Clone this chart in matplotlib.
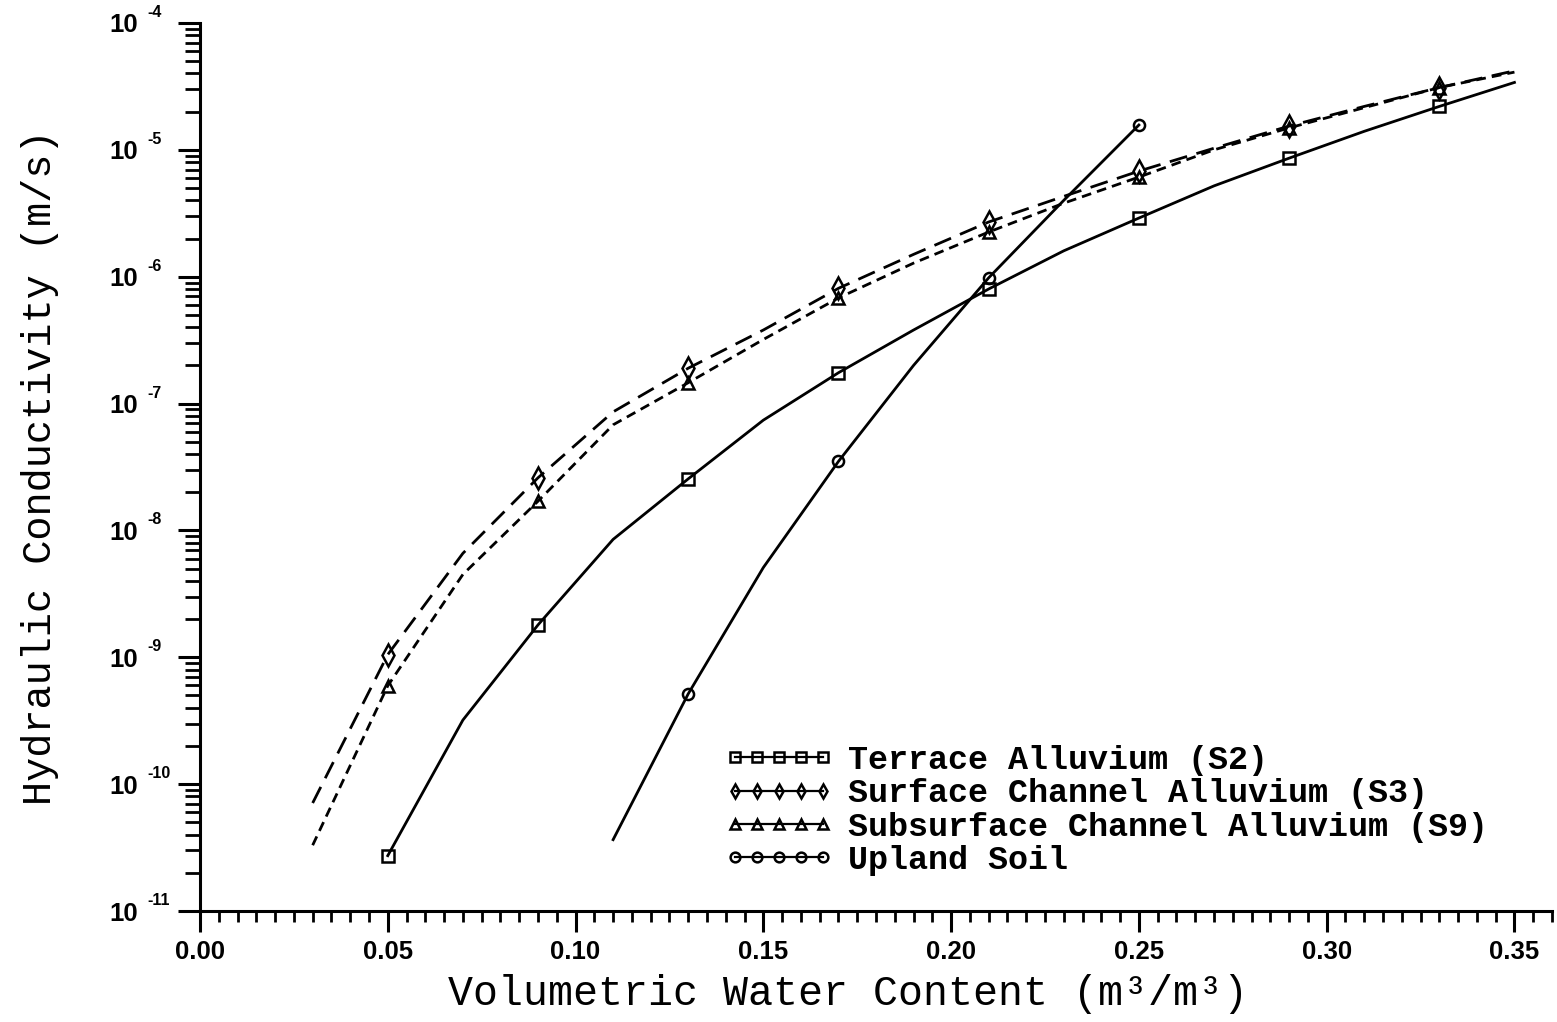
import numpy as np
import matplotlib
matplotlib.use("Agg")
import matplotlib.pyplot as plt
import matplotlib.transforms as mtransforms
from matplotlib.ticker import MultipleLocator, FixedLocator, NullFormatter

# ---------------- data ----------------
x_s2 = [0.05, 0.07, 0.09, 0.11, 0.13, 0.15, 0.17, 0.19, 0.21, 0.23, 0.25, 0.27, 0.29, 0.31, 0.33, 0.35]
k_s2 = [2.73e-11, 3.2e-10, 1.8e-9, 8.5e-9, 2.55e-8, 7.4e-8, 1.75e-7, 3.8e-7, 8.0e-7,
        1.6e-6, 2.9e-6, 5.2e-6, 8.6e-6, 1.4e-5, 2.2e-5, 3.4e-5]

x_s3 = [0.03, 0.05, 0.07, 0.09, 0.11, 0.13, 0.15, 0.17, 0.19, 0.21, 0.23, 0.25, 0.27, 0.29, 0.31, 0.33, 0.35]
k_s3 = [7.1e-11, 1.05e-9, 6.6e-9, 2.6e-8, 8.6e-8, 1.9e-7, 3.8e-7, 8.1e-7, 1.5e-6, 2.7e-6,
        4.3e-6, 6.8e-6, 1.03e-5, 1.54e-5, 2.2e-5, 3.1e-5, 4.2e-5]

x_s9 = [0.03, 0.05, 0.07, 0.09, 0.11, 0.13, 0.15, 0.17, 0.19, 0.21, 0.23, 0.25, 0.27, 0.29, 0.31, 0.33, 0.35]
k_s9 = [3.3e-11, 5.96e-10, 4.5e-9, 1.7e-8, 6.8e-8, 1.46e-7, 3.2e-7, 6.8e-7, 1.28e-6, 2.25e-6,
        3.8e-6, 6.1e-6, 1.0e-5, 1.49e-5, 2.15e-5, 3.1e-5, 4.1e-5]

x_up = [0.11, 0.13, 0.15, 0.17, 0.19, 0.21, 0.23, 0.25]
k_up = [3.65e-11, 5.15e-10, 5.1e-9, 3.5e-8, 2.0e-7, 9.8e-7, 4.0e-6, 1.57e-5]

labels = ["Terrace Alluvium (S2)",
          "Surface Channel Alluvium (S3)",
          "Subsurface Channel Alluvium (S9)",
          "Upland Soil"]
xticks = [0.00, 0.05, 0.10, 0.15, 0.20, 0.25, 0.30, 0.35]
xtick_labels = ["0.00", "0.05", "0.10", "0.15", "0.20", "0.25", "0.30", "0.35"]
ytick_exponents = [-11, -10, -9, -8, -7, -6, -5, -4]
xlabel = "Volumetric Water Content (m³/m³)"
ylabel = "Hydraulic Conductivity (m/s)"

# ---------------- figure ----------------
W, H = 1557, 1022
fig = plt.figure(figsize=(W / 100, H / 100), dpi=100)
ax = fig.add_axes([200 / W, 1 - 911 / H, (1552 - 200) / W, (911 - 23) / H])

lw = 2.0
mew = 1.8
ax.plot(x_s2, k_s2, color='black', lw=lw, ls='-', marker='s', ms=8, mew=mew,
        fillstyle='none', markevery=(0, 2), label=labels[0])
ax.plot(x_s3, k_s3, color='black', lw=lw, ls=(0, (6.5, 3.5)), marker='d', ms=11, mew=mew,
        fillstyle='none', markevery=(1, 2), label=labels[1])
ax.plot(x_s9, k_s9, color='black', lw=lw, ls=(0, (3.5, 2.2)), marker='^', ms=9, mew=mew,
        fillstyle='none', markevery=(1, 2), label=labels[2])
ax.plot(x_up, k_up, color='black', lw=lw, ls='-', marker='o', ms=8, mew=mew,
        fillstyle='none', markevery=(1, 2), label=labels[3])

ax.set_xlim(0, 0.36)
ax.set_yscale('log')
ax.set_ylim(1e-11, 1e-4)

for s in ['top', 'right']:
    ax.spines[s].set_visible(False)
for s in ['left', 'bottom']:
    ax.spines[s].set_linewidth(2.2)

ax.set_xticks(xticks)
ax.set_xticklabels(xtick_labels)
ax.xaxis.set_minor_locator(MultipleLocator(0.005))

ymajor = [10.0 ** e for e in ytick_exponents]
yminor = [m * 10.0 ** e for e in ytick_exponents[:-1] for m in range(2, 10)]
ax.yaxis.set_major_locator(FixedLocator(ymajor))
ax.yaxis.set_minor_locator(FixedLocator(yminor))
ax.yaxis.set_minor_formatter(NullFormatter())
ax.set_yticklabels(["10"] * len(ymajor))

ax.tick_params(axis='x', which='major', direction='out', length=15, width=2.2, pad=6)
ax.tick_params(axis='x', which='minor', direction='out', length=8, width=2.0)
ax.tick_params(axis='y', which='major', direction='out', length=16, width=2.2, pad=29)
ax.tick_params(axis='y', which='minor', direction='out', length=11, width=2.0)
for t in ax.get_xticklabels() + ax.get_yticklabels():
    t.set_fontfamily('Liberation Sans')
    t.set_fontweight('bold')
    t.set_fontsize(18.5)

# exponents of the y tick labels
tr = mtransforms.blended_transform_factory(ax.transAxes, ax.transData)
off = mtransforms.ScaledTranslation(0, 3 / 100, fig.dpi_scale_trans)
for e, v in zip(ytick_exponents, ymajor):
    ax.text((147 - 200) / 1352, v, "-%d" % abs(e), transform=tr + off,
            ha='left', va='bottom', fontsize=11.5, fontweight='bold',
            family='Liberation Sans', clip_on=False)

fig.text(848 / W, 1 - 994 / H, xlabel, ha='center', va='center',
         fontsize=30, family='Liberation Mono')
fig.text(40 / W, 1 - 467 / H, ylabel, ha='center', va='center', rotation=90,
         fontsize=29, family='Liberation Mono')

leg = ax.legend(loc='upper left', bbox_to_anchor=(725 / W, 1 - 745 / H),
                bbox_transform=fig.transFigure, frameon=False, numpoints=5,
                handlelength=3.25, handletextpad=0.45, labelspacing=0.07,
                borderpad=0, borderaxespad=0,
                prop={'family': 'Liberation Mono', 'weight': 'bold', 'size': 24})
for h in leg.legend_handles:
    h.set_markersize(7)
    h.set_linestyle('-')
    h.set_linewidth(1.6)

fig.savefig('out.png', dpi=100)
